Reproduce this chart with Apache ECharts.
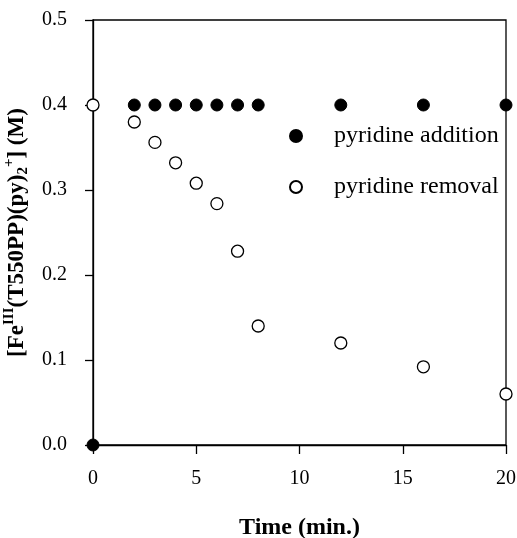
<!DOCTYPE html>
<html>
<head>
<meta charset="utf-8">
<script src="https://cdn.jsdelivr.net/npm/echarts@6/dist/echarts.min.js"></script>
<style>html,body{margin:0;padding:0;background:#fff}#c{width:517px;height:538px}</style>
</head>
<body>
<div id="c"></div>
<script>
var additionTime = [0, 2, 3, 4, 5, 6, 7, 8, 12, 16, 20];
var additionConc = [0.0, 0.4, 0.4, 0.4, 0.4, 0.4, 0.4, 0.4, 0.4, 0.4, 0.4];
var removalTime = [0, 2, 3, 4, 5, 6, 7, 8, 12, 16, 20];
var removalConc = [0.4, 0.38, 0.356, 0.332, 0.308, 0.284, 0.228, 0.14, 0.12, 0.092, 0.06];
var xTicks = [0, 5, 10, 15, 20];
var yTicks = [0.0, 0.1, 0.2, 0.3, 0.4, 0.5];
var seriesNames = ['pyridine addition', 'pyridine removal'];

function pairs(xs, ys) { return xs.map(function (x, i) { return [x, ys[i]]; }); }

var FONT = 'Liberation Serif';
var chart = echarts.init(document.getElementById('c'), null, { renderer: 'canvas' });
chart.setOption({
  animation: false,
  backgroundColor: '#fff',
  grid: { left: 93, right: 11, top: 20, bottom: 93, outerBoundsMode: 'none', containLabel: false,
          show: true, borderColor: '#000', borderWidth: 1.3, backgroundColor: 'transparent' },
  legend: {
    orient: 'vertical',
    align: 'left',
    left: 289,
    top: 124,
    padding: 0,
    itemWidth: 66,
    itemHeight: 12,
    itemGap: 27,
    data: seriesNames,
    textStyle: { fontFamily: FONT, fontSize: 24, color: '#000' },
    selectedMode: false
  },
  xAxis: {
    type: 'value',
    min: xTicks[0], max: xTicks[xTicks.length - 1], interval: 5,
    name: 'Time (min.)',
    nameLocation: 'middle',
    nameGap: 71,
    nameTextStyle: { fontFamily: FONT, fontSize: 24, fontWeight: 'bold', color: '#000' },
    axisLine: { lineStyle: { color: '#000', width: 1.3 } },
    axisTick: { inside: false, length: 9, lineStyle: { color: '#000', width: 1.3 } },
    axisLabel: { fontFamily: FONT, fontSize: 20, color: '#000', margin: 24 },
    splitLine: { show: false }
  },
  yAxis: {
    type: 'value',
    min: yTicks[0], max: yTicks[yTicks.length - 1], interval: 0.1,
    name: '{b|[Fe}{sup|III}{b|(T550PP)(py)}{sub|2}{sup|+}{b|] (M)}',
    nameLocation: 'middle',
    nameGap: 53,
    nameTextStyle: {
      fontFamily: FONT, fontSize: 23, fontWeight: 'bold', color: '#000',
      rich: {
        b: { fontFamily: FONT, fontSize: 23, fontWeight: 'bold', color: '#000', lineHeight: 29, verticalAlign: 'middle' },
        sup: { fontFamily: FONT, fontSize: 15, fontWeight: 'bold', color: '#000', lineHeight: 29, verticalAlign: 'top' },
        sub: { fontFamily: FONT, fontSize: 15, fontWeight: 'bold', color: '#000', lineHeight: 29, verticalAlign: 'bottom' }
      }
    },
    axisLine: { lineStyle: { color: '#000', width: 1.3 } },
    axisTick: { inside: false, length: 8, lineStyle: { color: '#000', width: 1.3 } },
    axisLabel: {
      fontFamily: FONT, fontSize: 20, color: '#000', margin: 26,
      formatter: function (v) { return v.toFixed(1); }
    },
    splitLine: { show: false }
  },
  series: [
    {
      name: seriesNames[0],
      type: 'scatter',
      symbol: 'circle',
      symbolSize: 12,
      clip: false,
      z: 5,
      itemStyle: { color: '#000', borderColor: '#000', borderWidth: 1, opacity: 1 },
      data: pairs(additionTime, additionConc)
    },
    {
      name: seriesNames[1],
      type: 'scatter',
      symbol: 'circle',
      symbolSize: 12,
      clip: false,
      z: 5,
      itemStyle: { color: '#fff', borderColor: '#000', borderWidth: 1.3, opacity: 1 },
      data: pairs(removalTime, removalConc)
    }
  ]
});
</script>
</body>
</html>
